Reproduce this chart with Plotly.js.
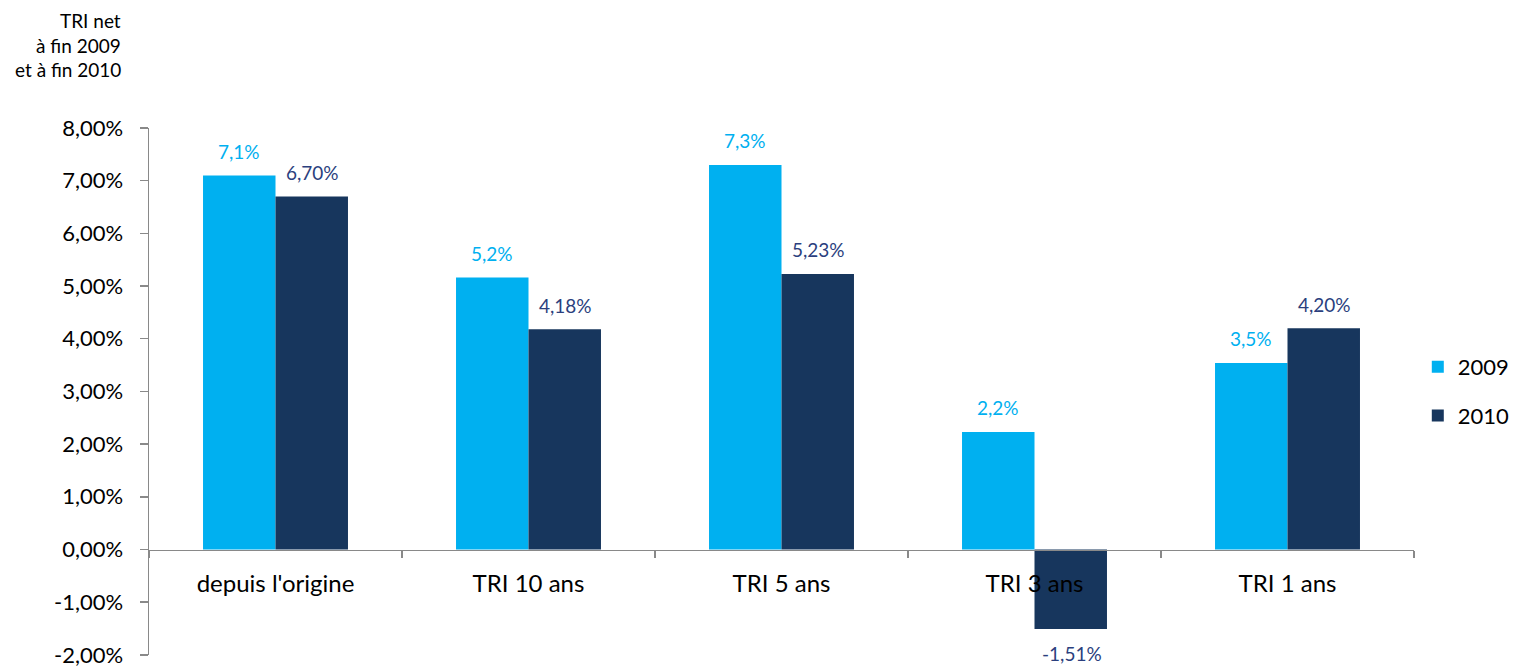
<!DOCTYPE html>
<html>
<head>
<meta charset="utf-8">
<script src="https://cdn.plot.ly/plotly-3.0.1.min.js"></script>
<style>html,body{margin:0;padding:0;background:#fff;}#chart{width:1534px;height:667px;}</style>
</head>
<body>
<div id="chart"></div>
<script>
const categories = ["depuis l'origine", "TRI 10 ans", "TRI 5 ans", "TRI 3 ans", "TRI 1 ans"];
const series2009 = [7.1, 5.16, 7.3, 2.23, 3.54];
const series2010 = [6.70, 4.18, 5.23, -1.51, 4.20];
const seriesNames = ["2009", "2010"];
const titleLines = ["TRI net", "à fin 2009", "et à fin 2010"];
const yTickVals = [-2, -1, 0, 1, 2, 3, 4, 5, 6, 7, 8];

const c2009 = "#00B0F0";
const c2010 = "#17365D";
const lbl2010 = "#2B3F7E";
const font = "Lato, 'Open Sans', sans-serif";

function fmt(v, d) { return v.toFixed(d).replace(".", ",") + "%"; }
const yTickText = yTickVals.map(v => fmt(v, 2));

const traces = [
  {type: "bar", name: seriesNames[0], x: categories, y: series2009, marker: {color: c2009}, legendgroup: "a", hoverinfo: "none"},
  {type: "bar", name: seriesNames[1], x: categories, y: series2010, marker: {color: c2010}, legendgroup: "b", hoverinfo: "none"}
];

const annotations = [];
series2009.forEach((v, i) => annotations.push({
  x: categories[i], y: v, xref: "x", yref: "y", text: fmt(v, 1), showarrow: false,
  xshift: -37, yshift: v >= 0 ? 24 : -24, font: {family: font, size: 19, color: c2009}
}));
series2010.forEach((v, i) => annotations.push({
  x: categories[i], y: v, xref: "x", yref: "y", text: fmt(v, 2), showarrow: false,
  xshift: 37, yshift: v >= 0 ? 24 : -24, font: {family: font, size: 19, color: lbl2010}
}));
titleLines.forEach((t, i) => annotations.push({
  x: 123, y: 667 - 20 - 25 * i, xref: "paper", yref: "paper", text: t, showarrow: false,
  xanchor: "right", yanchor: "middle", font: {family: font, size: 19, color: "#000"}
}));
const plotL = 149, plotR = 1414, plotT = 128, plotB = 655;
annotations.forEach(a => {
  if (a.xref === "paper") {
    a.x = (a.x - plotL) / (plotR - plotL);
    a.y = (a.y - (667 - plotB)) / (plotB - plotT);
  }
});

const layout = {
  width: 1534, height: 667,
  margin: {l: plotL, r: 1534 - plotR, t: plotT, b: 667 - plotB, pad: 0},
  paper_bgcolor: "#fff", plot_bgcolor: "#fff",
  barmode: "group", bargap: 0.427, bargroupgap: 0,
  separators: ", ",
  showlegend: true,
  legend: {x: 1.003, xanchor: "left", y: 0.5, yanchor: "middle", traceorder: "grouped", tracegroupgap: 17,
           font: {family: font, size: 22, color: "#000"}, bgcolor: "rgba(0,0,0,0)"},
  xaxis: {
    type: "category", anchor: "free", position: 0.2,
    showline: true, linecolor: "#898989", linewidth: 1.5,
    ticks: "outside", tickson: "boundaries", ticklen: 7, tickwidth: 1.5, tickcolor: "#898989",
    ticklabelstandoff: 12,
    showgrid: false, zeroline: false,
    tickfont: {family: font, size: 24, color: "#000"}
  },
  yaxis: {
    range: [-2.003, 8], tickvals: yTickVals, ticktext: yTickText,
    ticklabeloverflow: "allow",
    showline: true, linecolor: "#898989", linewidth: 1.5,
    ticks: "outside", ticklen: 8, tickwidth: 1.5, tickcolor: "#898989",
    ticklabelstandoff: 12,
    showgrid: false, zeroline: false,
    tickfont: {family: font, size: 22, color: "#000"}
  },
  annotations: annotations
};

Plotly.newPlot("chart", traces, layout, {displayModeBar: false, staticPlot: true});
</script>
</body>
</html>
